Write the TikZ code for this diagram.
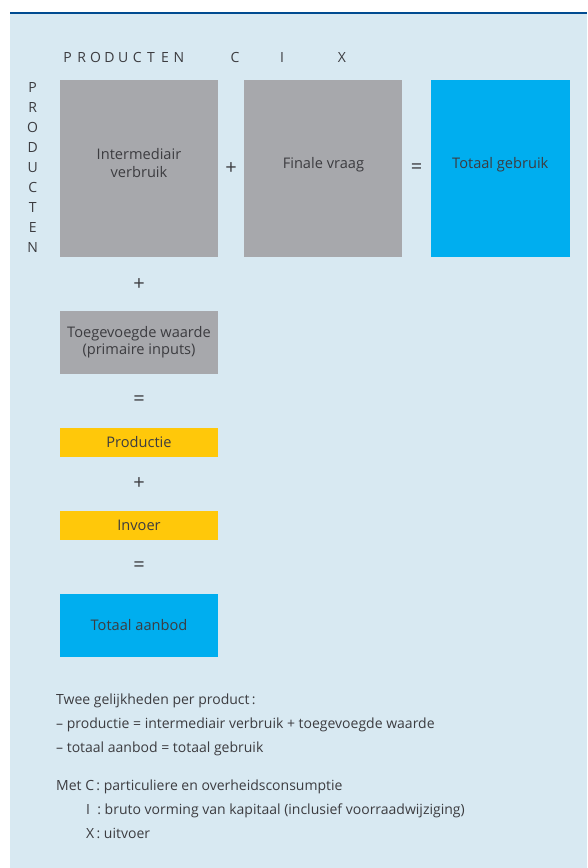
\documentclass[tikz,border=0pt]{standalone}
\usepackage{fontspec}
\setmainfont{Open Sans}
\usetikzlibrary{positioning}
\definecolor{bgblue}{RGB}{216,233,242}
\definecolor{rulblue}{RGB}{0,75,145}
\definecolor{boxgray}{RGB}{167,168,172}
\definecolor{boxblue}{RGB}{0,174,239}
\definecolor{boxyellow}{RGB}{255,200,10}
\definecolor{txtgray}{RGB}{60,60,64}
\begin{document}
\begin{tikzpicture}[x=1pt, y=-1pt,
     node distance = 53.5pt and 26pt,
 every node/.style = {font=\fontsize{14}{16}\selectfont, text=txtgray, inner sep=0pt},
        box/.style = {rectangle, fill=boxgray, minimum width=158pt, align=center,
                      font=\fontsize{14.6}{17.5}\selectfont},
     bigbox/.style = {box, minimum height=177pt, text depth=11pt},
       flat/.style = {box, fill=boxyellow, minimum height=29pt},
         op/.style = {anchor=center, font=\fontsize{20}{20}\selectfont},
     letter/.style = {anchor=base},
        txt/.style = {anchor=base west}
                        ]
\useasboundingbox (0,0) rectangle (587,868);
\fill[bgblue] (10,13) rectangle (587,868);
\draw[rulblue, line width=2pt] (10,13) -- (587,13);
% header letters
\foreach \l [count=\i from 0] in {P,R,O,D,U,C,T,E,N}
  \node (top\i) [letter] at (67.7+13.9*\i, 62) {\l};
\foreach \l [count=\i from 0] in {P,R,O,D,U,C,T,E,N}
  \node (side\i) [letter] at (32.7, 92.3+20*\i) {\l};
\node (colC) [letter] at (235,62) {C};
\node (colI) [letter] at (282,62) {I};
\node (colX) [letter] at (342,62) {X};
% top row
\node (inter) [bigbox] at (139,168.5) {Intermediair\\verbruik};
\node (fin)   [bigbox, right=of inter] {Finale vraag};
\node (tgeb)  [bigbox, fill=boxblue, minimum width=139pt, right=28pt of fin] {Totaal gebruik};
\node (plusA) [op, right=13pt of inter, anchor=center] {+};
\node (isA)   [op, right=14pt of fin, anchor=center] {=};
% left column
\node (toeg)  [box, minimum height=63pt, below=of inter] {Toegevoegde waarde\\(primaire inputs)};
\node (prod)  [flat, below=of toeg] {Productie};
\node (invo)  [flat, below=of prod] {Invoer};
\node (taan)  [box, fill=boxblue, minimum height=63pt, below=of invo] {Totaal aanbod};
\node (plusB) [op, below=27pt of inter, anchor=center] {+};
\node (isB)   [op, below=27pt of toeg, anchor=center] {=};
\node (plusC) [op, below=27pt of prod, anchor=center] {+};
\node (isC)   [op, below=27pt of invo, anchor=center] {=};
% notes
\node (nt1) [txt] at (56,704) {Twee gelijkheden per product\,:};
\node (nt2) [txt] at (56,728) {– productie = intermediair verbruik + toegevoegde waarde};
\node (nt3) [txt] at (56,752) {– totaal aanbod = totaal gebruik};
\node (nt4) [txt] at (56,790) {Met C\,: particuliere en overheidsconsumptie};
\node (nt5) [txt] at (86,814) {I\ \ : bruto vorming van kapitaal (inclusief voorraadwijziging)};
\node (nt6) [txt] at (86,838) {X\,: uitvoer};
\end{tikzpicture}
\end{document}
